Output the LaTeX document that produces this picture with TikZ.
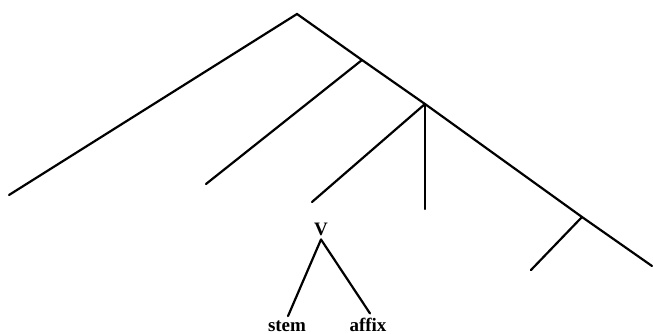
\documentclass[tikz,border=0pt]{standalone}
\usepackage{fontspec}
\setmainfont{Liberation Serif}
\usetikzlibrary{positioning,calc}

\begin{document}
\begin{tikzpicture}[
  x=1pt, y=-1pt,
  branch/.style={line width=2.2pt, line cap=round, line join=miter},
  cat/.style={font=\fontsize{19}{22}\selectfont\bfseries, inner sep=4pt}
]
\useasboundingbox (0,0) rectangle (653,334);

% spine of the tree
\coordinate (root) at (297,14);
\coordinate (n1) at (362,60);
\coordinate (n2) at (425,104);
\coordinate (n3) at (582,217);
\coordinate (last) at (652,266);

% leaves
\coordinate (l0) at (9,195);
\coordinate (l1) at (206,184);
\coordinate (l2) at (312,202);
\coordinate (l3) at (425,209);
\coordinate (l4) at (531,270);

\draw[branch] (l0) -- (root) -- (n1) -- (n2) -- (n3) -- (last);
\draw[branch] (n1) -- (l1);
\draw[branch] (n2) -- (l2);
\draw[branch] (n2) -- (l3);
\draw[branch] (n3) -- (l4);

% the V subtree
\node[cat, anchor=base] (V) at (321,235) {V};
\node[cat, anchor=base] (stem) at (287,331) {stem};
\node[cat, anchor=base] (affix) at (368,331) {affix};

\draw[branch] (V.south) -- ([xshift=1pt]stem.north);
\draw[branch] (V.south) -- ([xshift=2pt]affix.north);
\end{tikzpicture}
\end{document}
